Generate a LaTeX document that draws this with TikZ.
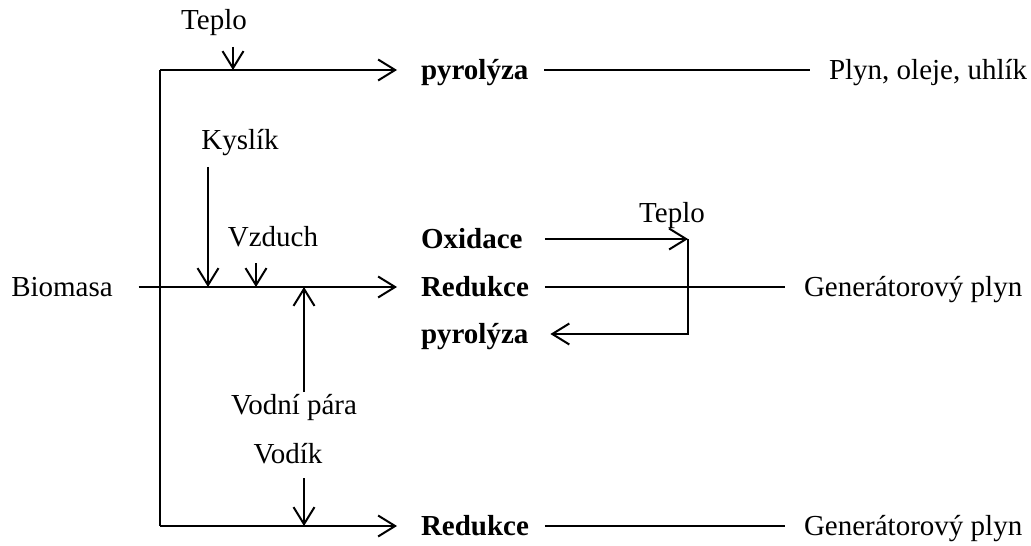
\documentclass[tikz,border=0pt]{standalone}
\usepackage{fontspec}
\setmainfont{Liberation Serif}
\usetikzlibrary{arrows.meta,positioning}

\tikzset{
  lbl/.style={inner sep=0pt, text height=2ex, text depth=0pt},
  stage/.style={lbl, font=\fontsize{14.5}{17}\selectfont\bfseries, anchor=west},
  feed/.style={-{Straight Barb[length=8.5pt,width=10.5pt]}},
  tostage/.style={feed, shorten >=11.5pt},
  yield/.style={shorten <=7.5pt, shorten >=9pt},
}

\begin{document}
\begin{tikzpicture}[x=0.5pt, y=-0.5pt, line width=1pt, font=\fontsize{14.5}{17}\selectfont]
  \useasboundingbox (0,0) rectangle (1031,545);
  % rows of the three routes
  \coordinate (rowA) at (160,70);
  \coordinate (rowB) at (160,287);
  \coordinate (rowC) at (160,526);
  % stages
  \node[stage] (pyro1) at (420,70) {pyrolýza};
  \node[stage] (oxid) at (420,239) {Oxidace};
  \node[stage] (redB) at (420,287) {Redukce};
  \node[stage] (pyro2) at (420,334) {pyrolýza};
  \node[stage] (redC) at (420,526) {Redukce};
  % products
  \node[lbl, anchor=west] (plyn) at (828,70) {Plyn, oleje, uhlík};
  \node[lbl, anchor=west] (genB) at (803,287) {Generátorový plyn};
  \node[lbl, anchor=west] (genC) at (803,526) {Generátorový plyn};
  % inputs
  \node[lbl] (biomasa) at (62,287) {Biomasa};
  \node[lbl] (teploA) at (214,20) {Teplo};
  \node[lbl] (kyslik) at (240,140) {Kyslík};
  \node[lbl] (vzduch) at (273,237) {Vzduch};
  \node[lbl] (para) at (294,405) {Vodní pára};
  \node[lbl] (vodik) at (288,454) {Vodík};
  \node[lbl] (teploB) at (672,213) {Teplo};
  \coordinate (tpIn) at (233,47);
  \coordinate (kyIn) at (208,167);
  \coordinate (vzIn) at (256,263);
  \coordinate (vpIn) at (304,392);
  \coordinate (voIn) at (304,478);
  \coordinate (loopT) at (688,239);

  % main routes
  \draw (rowA) -- (rowC);
  \draw[tostage] (rowA) -- (pyro1);
  \draw[tostage, shorten <=12.5pt] (biomasa) -- (redB);
  \draw[tostage] (rowC) -- (redC);
  % feeds
  \draw[feed] (tpIn) -- (tpIn |- rowA);
  \draw[feed] (kyIn) -- (kyIn |- rowB);
  \draw[feed] (vzIn) -- (vzIn |- rowB);
  \draw[feed] (vpIn) -- (vpIn |- rowB);
  \draw[feed] (voIn) -- (voIn |- rowC);
  % heat loop
  \draw[feed, shorten <=10.75pt] (oxid) -- (loopT);
  \draw[feed, shorten >=10.5pt] (loopT) |- (pyro2);
  % products
  \draw[yield] (pyro1) -- (plyn);
  \draw[yield] (redB) -- (genB);
  \draw[yield] (redC) -- (genC);
\end{tikzpicture}
\end{document}
